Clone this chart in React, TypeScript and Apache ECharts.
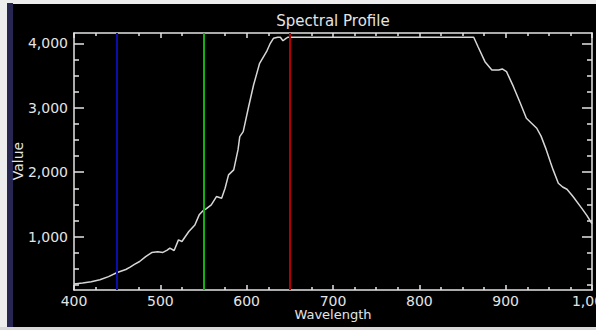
import React, { useEffect, useRef } from "react";
import * as echarts from "echarts";

const wavelengths = [
  400, 410, 420, 430, 440, 450, 460, 465, 470, 476, 483, 490, 497, 503, 508, 511, 516, 521, 525,
  533, 540, 545, 550, 553, 559, 565, 571, 575, 579, 585, 590, 592, 596, 602, 608, 615, 623, 627,
  631, 636, 639, 642, 646, 648, 863, 868, 876, 884, 892, 896, 901, 909, 917, 924, 930, 936, 941,
  947, 952, 955, 961, 966, 971, 978, 988, 994, 1000,
];
const values = [
  265, 280, 300, 330, 380, 443, 490, 527, 570, 614, 690, 753, 765, 755, 790, 822, 785, 950, 924,
  1079, 1180, 1338, 1410, 1430, 1493, 1622, 1597, 1750, 1958, 2036, 2350, 2552, 2630, 3000, 3353,
  3690, 3870, 3990, 4078, 4095, 4095, 4040, 4080, 4095, 4095, 3947, 3715, 3586, 3586, 3602, 3560,
  3327, 3070, 2837, 2760, 2682, 2560, 2350, 2150, 2036, 1829, 1770, 1736, 1622, 1442, 1330, 1200,
];
const bandLines = [450, 550, 650];
const bandColors = ["#0c0ca8", "#12b012", "#b00000"];
const yMajorTicks = [1000, 2000, 3000, 4000];
const yMinorTicks = [250, 500, 750, 1250, 1500, 1750, 2250, 2500, 2750, 3250, 3500, 3750];
const xMin = 400;
const xMax = 1000;
const yMin = 172;
const yMax = 4160;

const AXIS_COLOR = "#e4e4e4";
const FONT = "DejaVu Sans";

export default function App() {
  const ref = useRef<HTMLDivElement>(null);
  useEffect(() => {
    document.body.style.margin = "0";
    if (!ref.current) return;
    const chart = echarts.init(ref.current, undefined, { renderer: "svg" });
    const lineStyle = { color: AXIS_COLOR, width: 1.5 };
    const xBase = (pos: "top" | "bottom", labels: boolean) => ({
      type: "value",
      min: xMin,
      max: xMax,
      interval: 100,
      position: pos,
      axisLine: { show: true, onZero: false, lineStyle },
      axisTick: { show: true, inside: true, length: 5, lineStyle },
      minorTick: { show: true, splitNumber: 4, length: 3, lineStyle },
      axisLabel: { show: labels, color: AXIS_COLOR, fontSize: 14, fontFamily: FONT, margin: 4 },
      splitLine: { show: false },
      minorSplitLine: { show: false },
    });
    const yBase = (pos: "left" | "right", major: boolean) => ({
      type: "value",
      min: yMin,
      max: yMax,
      position: pos,
      axisLine: { show: major, onZero: false, lineStyle },
      axisTick: {
        show: true,
        inside: true,
        length: major ? 10 : 5,
        customValues: major ? yMajorTicks : yMinorTicks,
        lineStyle,
      },
      axisLabel: {
        show: major && pos === "left",
        customValues: yMajorTicks,
        color: AXIS_COLOR,
        fontSize: 14,
        fontFamily: FONT,
        margin: 6,
      },
      splitLine: { show: false },
    });
    chart.setOption({
      animation: false,
      backgroundColor: "#000000",
      grid: { left: 74, right: 4, top: 33, bottom: 40, containLabel: false, outerBoundsMode: "none" },
      graphic: [
        { type: "rect", shape: { x: 0, y: 0, width: 596, height: 4 }, style: { fill: "#ededed" }, silent: true },
        { type: "rect", shape: { x: 0, y: 0, width: 7, height: 330 }, style: { fill: "#ededed" }, silent: true },
        { type: "rect", shape: { x: 7, y: 3, width: 6, height: 324 }, style: { fill: "#262650" }, silent: true },
        { type: "rect", shape: { x: 0, y: 327, width: 596, height: 3 }, style: { fill: "#d8d8d8" }, silent: true },
        {
          type: "text",
          x: 333,
          y: 21,
          style: {
            text: "Spectral Profile",
            fill: AXIS_COLOR,
            fontSize: 15,
            fontFamily: FONT,
            align: "center",
            verticalAlign: "middle",
          },
        },
        {
          type: "text",
          x: 333,
          y: 314,
          style: {
            text: "Wavelength",
            fill: AXIS_COLOR,
            fontSize: 13,
            fontFamily: FONT,
            align: "center",
            verticalAlign: "middle",
          },
        },
        {
          type: "text",
          x: 18,
          y: 161,
          rotation: Math.PI / 2,
          style: {
            text: "Value",
            fill: AXIS_COLOR,
            fontSize: 14,
            fontFamily: FONT,
            align: "center",
            verticalAlign: "middle",
          },
        },
      ],
      xAxis: [xBase("bottom", true), xBase("top", false)],
      yAxis: [yBase("left", true), yBase("left", false), yBase("right", true), yBase("right", false)],
      series: [
        {
          type: "line",
          xAxisIndex: 0,
          yAxisIndex: 0,
          data: wavelengths.map((w, i) => [w, values[i]]),
          showSymbol: false,
          symbol: "none",
          lineStyle: { color: "#d6d6d6", width: 1.5 },
          markLine: {
            silent: true,
            symbol: ["none", "none"],
            label: { show: false },
            data: bandLines.map((w, i) => ({ xAxis: w, lineStyle: { color: bandColors[i], width: 2, type: "solid" } })),
          },
          z: 3,
        },
      ],
    });
    return () => chart.dispose();
  }, []);
  return <div ref={ref} style={{ width: 596, height: 330 }} />;
}
